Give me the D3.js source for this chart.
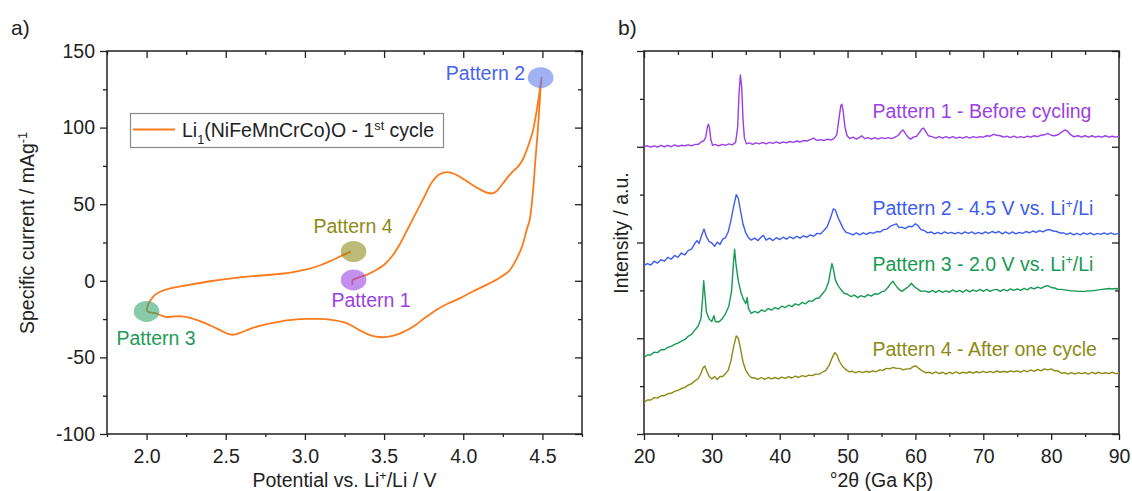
<!DOCTYPE html>
<html>
<head>
<meta charset="utf-8">
<script src="https://cdn.jsdelivr.net/npm/d3@7"></script>
<style>
  body { margin: 0; background: #fff; }
  svg { display: block; font-family: "Liberation Sans", Arial, sans-serif; }
</style>
</head>
<body>
<svg id="fig" width="1132" height="491"></svg>
<script>
// ---------- Panel a: first cyclic voltammetry cycle ----------
const cvPotential = [
  3.300, 3.302, 3.33, 3.39, 3.45, 3.50, 3.55, 3.60, 3.65, 3.70, 3.75, 3.80, 3.85, 3.90, 3.95,
  4.00, 4.05, 4.10, 4.15, 4.18, 4.21, 4.25, 4.30, 4.35, 4.38, 4.41, 4.44, 4.47, 4.495,
  4.488, 4.48, 4.47, 4.455, 4.44, 4.42, 4.40, 4.37, 4.33, 4.29, 4.23, 4.15, 4.06, 3.98, 3.90,
  3.83, 3.76, 3.69, 3.62, 3.56, 3.50, 3.45, 3.40, 3.35, 3.30, 3.25, 3.18, 3.10, 3.00, 2.90,
  2.80, 2.72, 2.65, 2.59, 2.55, 2.52, 2.48, 2.42, 2.35, 2.28, 2.22, 2.17, 2.12, 2.09, 2.05, 2.005,
  2.005, 2.02, 2.05, 2.09, 2.15, 2.25, 2.40, 2.55, 2.70, 2.85, 2.95, 3.03, 3.10, 3.16, 3.22, 3.29
];
const cvCurrent = [
  -2.5, 0.5, 1.8, 3.9, 7.0, 10.5, 16, 24, 34, 44, 54, 64, 69.5, 71, 69.5,
  66.5, 63, 60, 57.5, 57, 58.5, 63.5, 70, 75, 80, 88, 98, 115, 133,
  125, 112, 97, 78, 58, 40, 33, 22, 13, 6.5, 2, -2.5, -7, -11.3, -15,
  -19, -24, -29.5, -33.5, -35.8, -36.8, -36.5, -35, -32.5, -29.5, -27.2, -25.6, -24.9, -24.9, -25.7,
  -27.5, -29.2, -31.5, -34, -35.2, -34.8, -33, -30, -26.8, -24.3, -23.2, -23.3, -23.6, -22.5, -21, -20,
  -17, -13.5, -9.5, -7, -5, -3, -0.3, 1.8, 3.3, 4.6, 6.2, 8, 10.3, 12.8, 15.8, 19
];

// points where the XRD patterns were taken
const markerNames = ["Pattern 1", "Pattern 2", "Pattern 3", "Pattern 4"];
const markerPotential = [3.307, 4.489, 2.0, 3.307];
const markerCurrent = [0.6, 132.6, -20, 19.1];

const cvMajorX = [2.0, 2.5, 3.0, 3.5, 4.0, 4.5];
const cvMinorX = [1.75, 2.25, 2.75, 3.25, 3.75, 4.25, 4.75];
const cvMajorY = [-100, -50, 0, 50, 100, 150];
const cvMinorY = [-75, -25, 25, 75, 125];

// ---------- Panel b: XRD patterns (2θ in degrees, intensity in stacked a.u.) ----------
const pattern1 = [
  [20,6.00],[20.5,6.02],[21,5.99],[21.5,6.02],[22,5.99],[22.5,6.03],[23,6.00],[23.5,6.03],[24,6.00],[24.5,6.04],
  [25,6.01],[25.5,6.03],[26,6.02],[26.5,6.04],[27,6.02],[27.5,6.05],[28,6.05],[28.5,6.11],[28.8,6.12],[29.1,6.20],
  [29.35,6.42],[29.5,6.47],[29.65,6.40],[29.85,6.15],[30.1,6.03],[30.5,6.05],[31,6.02],[31.5,6.05],[32,6.03],[32.5,6.06],
  [33,6.04],[33.5,6.09],[33.8,6.40],[34.0,7.10],[34.2,7.50],[34.4,7.25],[34.6,6.55],[34.8,6.18],[35.1,6.06],[35.5,6.08],
  [36,6.05],[36.5,6.08],[37,6.06],[37.5,6.09],[38,6.06],[38.5,6.09],[39,6.07],[39.5,6.10],[40,6.07],[40.5,6.10],
  [41,6.08],[41.5,6.11],[42,6.09],[42.5,6.12],[43,6.10],[43.5,6.13],[44,6.12],[44.5,6.15],[45,6.18],[45.5,6.13],
  [46,6.15],[46.5,6.13],[47,6.16],[47.5,6.14],[48,6.17],[48.4,6.25],[48.7,6.55],[49.0,6.86],[49.15,6.89],[49.35,6.75],
  [49.6,6.42],[49.9,6.24],[50.3,6.17],[50.8,6.20],[51.3,6.16],[51.8,6.20],[52.1,6.23],[52.5,6.17],[53,6.19],[53.5,6.16],
  [54,6.19],[54.5,6.16],[55,6.19],[55.5,6.17],[56,6.19],[56.5,6.17],[57,6.20],[57.5,6.24],[57.9,6.32],[58.2,6.35],
  [58.5,6.28],[58.9,6.20],[59.3,6.16],[59.7,6.20],[60.2,6.22],[60.6,6.30],[60.9,6.37],[61.2,6.39],[61.5,6.32],[61.9,6.23],
  [62.4,6.21],[63,6.18],[63.5,6.21],[64,6.18],[64.5,6.21],[65,6.18],[65.5,6.21],[66,6.18],[66.5,6.20],[67,6.18],
  [67.5,6.21],[68,6.18],[68.5,6.21],[69,6.19],[69.5,6.21],[70,6.20],[70.5,6.23],[71,6.22],[71.5,6.26],[72,6.24],
  [72.5,6.23],[73,6.20],[73.5,6.22],[74,6.19],[74.5,6.22],[75,6.19],[75.5,6.21],[76,6.19],[76.5,6.22],[77,6.20],
  [77.5,6.23],[78,6.21],[78.5,6.24],[79,6.25],[79.5,6.28],[80,6.24],[80.5,6.23],[81,6.25],[81.5,6.30],[82,6.35],
  [82.4,6.33],[82.8,6.26],[83.3,6.21],[84,6.23],[84.5,6.20],[85,6.23],[85.5,6.20],[86,6.23],[86.5,6.20],[87,6.22],
  [87.5,6.20],[88,6.23],[88.5,6.20],[89,6.22],[89.5,6.20],[90,6.22]
];
const pattern2 = [
  [20,3.52],[20.5,3.56],[21,3.53],[21.5,3.61],[22,3.57],[22.5,3.64],[23,3.61],[23.5,3.69],[24,3.65],[24.5,3.73],
  [25,3.69],[25.5,3.78],[26,3.74],[26.5,3.83],[27,3.86],[27.5,3.98],[27.8,4.04],[28.1,3.98],[28.5,4.15],[28.85,4.28],
  [29.2,4.12],[29.6,4.02],[30,3.99],[30.4,3.92],[30.8,4.01],[31.2,3.96],[31.6,4.07],[32,4.10],[32.4,4.22],[32.8,4.45],
  [33.2,4.75],[33.6,5.00],[33.9,4.92],[34.2,4.68],[34.6,4.38],[35,4.20],[35.4,4.10],[35.8,4.05],[36.3,4.09],[36.8,4.04],
  [37.3,4.12],[37.6,4.15],[38,4.05],[38.5,4.09],[39,4.04],[39.5,4.10],[40,4.06],[40.5,4.11],[41,4.07],[41.5,4.12],
  [42,4.08],[42.5,4.13],[43,4.09],[43.5,4.14],[44,4.11],[44.5,4.16],[45,4.13],[45.5,4.19],[46,4.18],[46.5,4.25],
  [47,4.33],[47.5,4.52],[47.9,4.70],[48.2,4.68],[48.6,4.52],[49,4.40],[49.4,4.28],[49.8,4.21],[50.3,4.19],[50.8,4.16],
  [51.3,4.20],[51.8,4.16],[52.3,4.20],[52.8,4.17],[53.3,4.21],[53.8,4.19],[54.3,4.23],[54.8,4.22],[55.3,4.27],[55.8,4.28],
  [56.3,4.34],[56.8,4.37],[57.2,4.39],[57.6,4.31],[58,4.32],[58.5,4.29],[59,4.34],[59.5,4.33],[60,4.39],[60.4,4.35],
  [60.8,4.27],[61.3,4.25],[61.8,4.20],[62.3,4.22],[62.8,4.18],[63.3,4.21],[63.8,4.18],[64.3,4.22],[64.8,4.19],[65.3,4.21],
  [65.8,4.18],[66.3,4.21],[66.8,4.18],[67.3,4.22],[67.8,4.19],[68.3,4.22],[68.8,4.18],[69.3,4.21],[69.8,4.18],[70.3,4.22],
  [70.8,4.19],[71.3,4.23],[71.8,4.20],[72.3,4.23],[72.8,4.18],[73.3,4.22],[73.8,4.18],[74.3,4.22],[74.8,4.18],[75.3,4.21],
  [75.8,4.19],[76.3,4.23],[76.8,4.20],[77.3,4.24],[77.8,4.21],[78.3,4.25],[78.8,4.22],[79.3,4.26],[79.8,4.27],[80.3,4.24],
  [80.8,4.23],[81.3,4.20],[81.8,4.20],[82.3,4.17],[82.8,4.20],[83.3,4.16],[83.8,4.19],[84.3,4.16],[84.8,4.20],[85.3,4.17],
  [85.8,4.20],[86.3,4.16],[86.8,4.19],[87.3,4.17],[87.8,4.20],[88.3,4.17],[88.8,4.20],[89.3,4.17],[90,4.19]
];
const pattern3 = [
  [20,1.60],[20.5,1.65],[21,1.65],[21.5,1.71],[22,1.70],[22.5,1.76],[23,1.76],[23.5,1.81],[24,1.83],[24.5,1.87],
  [25,1.90],[25.5,1.94],[26,1.97],[26.5,2.04],[27,2.08],[27.5,2.17],[28,2.26],[28.4,2.42],[28.65,2.85],[28.8,3.20],
  [28.95,2.95],[29.2,2.55],[29.6,2.40],[30,2.35],[30.3,2.47],[30.5,2.35],[31,2.34],[31.5,2.40],[32,2.51],[32.5,2.67],
  [32.9,2.98],[33.2,3.60],[33.35,3.86],[33.55,3.55],[33.9,3.20],[34.3,2.95],[34.7,2.80],[35.0,2.72],[35.2,2.85],[35.4,2.62],
  [35.8,2.52],[36.3,2.56],[36.8,2.53],[37.3,2.59],[37.8,2.56],[38.3,2.62],[38.8,2.59],[39.3,2.64],[39.8,2.61],[40.3,2.67],
  [40.8,2.64],[41.3,2.69],[41.8,2.66],[42.3,2.72],[42.8,2.69],[43.3,2.75],[43.8,2.72],[44.3,2.78],[44.8,2.77],[45.3,2.83],
  [45.8,2.84],[46.3,2.93],[46.8,3.02],[47.2,3.18],[47.5,3.42],[47.7,3.56],[47.9,3.45],[48.2,3.22],[48.6,3.10],[49,3.02],
  [49.5,2.94],[50,2.92],[50.5,2.87],[51,2.90],[51.5,2.85],[52,2.89],[52.5,2.86],[53,2.91],[53.5,2.88],[54,2.93],
  [54.5,2.92],[55,2.97],[55.5,2.99],[56,3.07],[56.4,3.15],[56.7,3.19],[57,3.12],[57.5,3.03],[58,2.98],[58.5,3.03],
  [59,3.08],[59.4,3.15],[59.8,3.08],[60.3,3.03],[60.8,2.98],[61.3,2.99],[62,2.96],[62.5,3.00],[63,2.96],[63.5,3.00],
  [64,2.96],[64.5,2.99],[65,2.96],[65.5,3.01],[66,2.97],[66.5,3.00],[67,2.96],[67.5,3.01],[68,2.97],[68.5,3.01],
  [69,2.98],[69.5,3.02],[70,2.98],[70.5,3.02],[71,2.98],[71.5,3.01],[72,3.02],[72.5,2.98],[73,3.02],[73.5,2.99],
  [74,3.03],[74.5,3.00],[75,3.03],[75.5,3.00],[76,3.04],[76.5,3.01],[77,3.06],[77.5,3.03],[78,3.07],[78.5,3.04],
  [79,3.08],[79.5,3.10],[80,3.06],[80.5,3.05],[81,3.02],[81.5,3.02],[82,3.01],[82.5,3.00],[83,2.99],[83.5,2.99],
  [84,2.98],[84.5,2.98],[85,2.98],[85.5,2.99],[86,2.99],[86.5,3.00],[87,3.01],[87.5,3.02],[88,3.03],[88.5,3.04],
  [89,3.03],[89.5,3.04],[90,3.03]
];
const pattern4 = [
  [20,0.66],[20.5,0.71],[21,0.71],[21.5,0.76],[22,0.75],[22.5,0.80],[23,0.80],[23.5,0.84],[24,0.85],[24.5,0.89],
  [25,0.91],[25.5,0.95],[26,0.97],[26.5,1.02],[27,1.05],[27.5,1.11],[28,1.16],[28.4,1.27],[28.7,1.38],[28.95,1.42],
  [29.2,1.33],[29.6,1.20],[30,1.15],[30.4,1.20],[30.8,1.14],[31.2,1.20],[31.6,1.20],[32,1.26],[32.4,1.33],[32.8,1.52],
  [33.2,1.82],[33.6,2.05],[33.9,2.00],[34.2,1.80],[34.6,1.50],[35,1.33],[35.4,1.24],[35.8,1.18],[36.3,1.17],[36.8,1.14],
  [37.3,1.18],[37.8,1.14],[38.3,1.18],[38.8,1.15],[39.3,1.18],[39.8,1.15],[40.3,1.19],[40.8,1.16],[41.3,1.20],[41.8,1.17],
  [42.3,1.21],[42.8,1.18],[43.3,1.22],[43.8,1.20],[44.3,1.23],[44.8,1.22],[45.3,1.25],[45.8,1.25],[46.3,1.29],[46.8,1.33],
  [47.3,1.44],[47.7,1.58],[48.1,1.70],[48.4,1.66],[48.8,1.52],[49.2,1.42],[49.7,1.35],[50.2,1.30],[50.7,1.31],[51.2,1.28],
  [51.7,1.31],[52.2,1.28],[52.7,1.31],[53.2,1.29],[53.7,1.32],[54.2,1.30],[54.7,1.34],[55.2,1.33],[55.7,1.37],[56.2,1.36],
  [56.7,1.39],[57.2,1.37],[57.7,1.37],[58.2,1.34],[58.7,1.36],[59.2,1.36],[59.7,1.41],[60.1,1.42],[60.5,1.37],[61,1.32],
  [61.5,1.28],[62,1.29],[62.5,1.26],[63,1.30],[63.5,1.26],[64,1.29],[64.5,1.25],[65,1.29],[65.5,1.26],[66,1.30],
  [66.5,1.26],[67,1.29],[67.5,1.27],[68,1.30],[68.5,1.27],[69,1.30],[69.5,1.28],[70,1.31],[70.5,1.28],[71,1.31],
  [71.5,1.28],[72,1.32],[72.5,1.29],[73,1.31],[73.5,1.29],[74,1.32],[74.5,1.30],[75,1.32],[75.5,1.29],[76,1.33],
  [76.5,1.30],[77,1.34],[77.5,1.31],[78,1.35],[78.5,1.32],[79,1.36],[79.5,1.34],[80,1.36],[80.5,1.32],[81,1.32],
  [81.5,1.27],[82,1.28],[82.5,1.25],[83,1.28],[83.5,1.25],[84,1.28],[84.5,1.26],[85,1.28],[85.5,1.25],[86,1.29],
  [86.5,1.26],[87,1.29],[87.5,1.26],[88,1.28],[88.5,1.26],[89,1.29],[89.5,1.26],[90,1.27]
];
const patternLabels = [
  ["Pattern 1 - Before cycling"],
  ["Pattern 2 - 4.5 V vs. Li", "+", "/Li"],
  ["Pattern 3 - 2.0 V vs. Li", "+", "/Li"],
  ["Pattern 4 - After one cycle"]
];
const xrdMajorX = [20, 30, 40, 50, 60, 70, 80, 90];
const xrdMinorX = [25, 35, 45, 55, 65, 75, 85];
const xrdMajorY = [0, 2, 4, 6, 8];
const xrdMinorY = [1, 3, 5, 7];

// ---------- styling ----------
const purple = "#9a3fe6", blue = "#3d5df0", green = "#179a52", olive = "#8c8a14", orange = "#fb7a1c";
const patternColors = [purple, blue, green, olive];
const FS = 19.5;

const svg = d3.select("#fig");

// scales
const cvX = d3.scaleLinear().domain([1.75, 4.75]).range([107, 582]);
const cvY = d3.scaleLinear().domain([-100, 150]).range([434, 51]);
const xrdX = d3.scaleLinear().domain([20, 90]).range([644, 1119]);
const xrdY = d3.scaleLinear().domain([0, 8]).range([434, 51]);

function frameAxes(xs, ys, opts) {
  const [x0, x1] = xs.range();
  const [y0, y1] = ys.range(); // y0 bottom, y1 top
  const g = svg.append("g");
  const styleAxis = sel => {
    sel.select(".domain").remove();
    sel.selectAll("line").attr("stroke", "#222").attr("stroke-width", 1.3);
    sel.selectAll("text").attr("fill", "#222").attr("font-size", FS)
      .attr("font-family", "'Liberation Sans', Arial, sans-serif");
  };
  // bottom: outward ticks with labels
  g.append("g").attr("transform", `translate(0,${y0})`)
    .call(d3.axisBottom(xs).tickValues(opts.majorX).tickSize(6).tickPadding(9).tickFormat(opts.fmtX))
    .call(styleAxis);
  g.append("g").attr("transform", `translate(0,${y0})`)
    .call(d3.axisBottom(xs).tickValues(opts.minorX).tickSize(3).tickFormat(""))
    .call(styleAxis);
  // top: inward ticks
  g.append("g").attr("transform", `translate(0,${y1})`)
    .call(d3.axisBottom(xs).tickValues(opts.majorX).tickSize(7).tickFormat(""))
    .call(styleAxis);
  g.append("g").attr("transform", `translate(0,${y1})`)
    .call(d3.axisBottom(xs).tickValues(opts.minorX).tickSize(4).tickFormat(""))
    .call(styleAxis);
  // left: outward ticks
  g.append("g").attr("transform", `translate(${x0},0)`)
    .call(d3.axisLeft(ys).tickValues(opts.majorY).tickSize(7).tickPadding(5)
      .tickFormat(opts.fmtY || ""))
    .call(styleAxis);
  g.append("g").attr("transform", `translate(${x0},0)`)
    .call(d3.axisLeft(ys).tickValues(opts.minorY).tickSize(4).tickFormat(""))
    .call(styleAxis);
  // right: inward ticks
  g.append("g").attr("transform", `translate(${x1},0)`)
    .call(d3.axisLeft(ys).tickValues(opts.majorY).tickSize(7).tickFormat(""))
    .call(styleAxis);
  g.append("g").attr("transform", `translate(${x1},0)`)
    .call(d3.axisLeft(ys).tickValues(opts.minorY).tickSize(4).tickFormat(""))
    .call(styleAxis);
  // frame
  g.append("rect").attr("x", x0).attr("y", y1).attr("width", x1 - x0).attr("height", y0 - y1)
    .attr("fill", "none").attr("stroke", "#222").attr("stroke-width", 1.5);
}

function richText(parent, parts, attrs) {
  const t = parent.append("text");
  Object.entries(attrs).forEach(([k, v]) => t.attr(k, v));
  parts.forEach(p => {
    const s = t.append("tspan").text(p.text);
    if (p.shift === "sup") s.attr("font-size", FS * 0.65).attr("baseline-shift", "super");
    if (p.shift === "sub") s.attr("font-size", FS * 0.65).attr("baseline-shift", "sub");
    if (p.fill) s.attr("fill", p.fill);
  });
  return t;
}

// ===== Panel a =====
frameAxes(cvX, cvY, {
  majorX: cvMajorX, minorX: cvMinorX, majorY: cvMajorY, minorY: cvMinorY,
  fmtX: d3.format(".1f"), fmtY: d => String(d)
});

const cvPoints = cvPotential.map((v, i) => [v, cvCurrent[i]]);
svg.append("path")
  .datum(cvPoints)
  .attr("fill", "none")
  .attr("stroke", orange)
  .attr("stroke-width", 1.8)
  .attr("d", d3.line().x(d => cvX(d[0])).y(d => cvY(d[1])).curve(d3.curveCatmullRom.alpha(0.5)));

// translucent markers at the XRD sampling points
const markerFill = ["#9a3fe6", "#5b78ec", "#2ea36a", "#8c8a14"];
svg.append("g").selectAll("ellipse")
  .data(markerNames)
  .join("ellipse")
  .attr("cx", (d, i) => cvX(markerPotential[i]))
  .attr("cy", (d, i) => cvY(markerCurrent[i]))
  .attr("rx", 12.8)
  .attr("ry", 10.5)
  .attr("fill", (d, i) => markerFill[i])
  .attr("fill-opacity", 0.58);

const annoColor = ["#9a3fe6", "#4665ee", "#1f9a58", "#8c8a14"];
const annoPos = [
  { x: 331.5, y: 307, anchor: "start" },
  { x: 525, y: 80, anchor: "end" },
  { x: 116.5, y: 344.5, anchor: "start" },
  { x: 313.5, y: 232.5, anchor: "start" }
];
markerNames.forEach((name, i) => {
  svg.append("text").attr("x", annoPos[i].x).attr("y", annoPos[i].y)
    .attr("text-anchor", annoPos[i].anchor).attr("font-size", FS)
    .attr("fill", annoColor[i]).text(name);
});

// legend
const lg = svg.append("g");
lg.append("rect").attr("x", 130.5).attr("y", 113.5).attr("width", 313).attr("height", 34)
  .attr("fill", "#fff").attr("stroke", "#8a8a8a").attr("stroke-width", 1.2);
lg.append("line").attr("x1", 133).attr("x2", 175).attr("y1", 129.5).attr("y2", 129.5)
  .attr("stroke", orange).attr("stroke-width", 1.8);
richText(lg, [
  { text: "Li" }, { text: "1", shift: "sub" }, { text: "(NiFeMnCrCo)O - 1" },
  { text: "st", shift: "sup" }, { text: " cycle" }
], { x: 182, y: 136.5, "font-size": FS, fill: "#222" });

// axis titles
richText(svg, [{ text: "Potential vs. Li" }, { text: "+", shift: "sup" }, { text: "/Li / V" }],
  { x: (cvX.range()[0] + cvX.range()[1]) / 2, y: 487, "text-anchor": "middle", "font-size": FS, fill: "#222" });
richText(svg, [{ text: "Specific current / mAg" }, { text: "-1", shift: "sup" }],
  { transform: "translate(27,233) rotate(-90)", "text-anchor": "middle", dy: "0.35em", "font-size": FS, fill: "#222" });
svg.append("text").attr("x", 11).attr("y", 35).attr("font-size", 21).attr("fill", "#222").text("a)");

// ===== Panel b =====
frameAxes(xrdX, xrdY, {
  majorX: xrdMajorX, minorX: xrdMinorX, majorY: xrdMajorY, minorY: xrdMinorY,
  fmtX: d3.format("d"), fmtY: null
});

const xrdLine = d3.line().x(d => xrdX(d[0])).y(d => xrdY(d[1]));
[pattern1, pattern2, pattern3, pattern4].forEach((p, i) => {
  svg.append("path").datum(p)
    .attr("fill", "none")
    .attr("stroke", patternColors[i])
    .attr("stroke-width", 1.4)
    .attr("stroke-linejoin", "round")
    .attr("d", xrdLine);
});

const labelBaselines = [118, 214.5, 270.5, 355.5];
patternLabels.forEach((parts, i) => {
  const spec = parts.map((t, k) => (t === "+" ? { text: t, shift: "sup" } : { text: t }));
  richText(svg, spec, { x: 872.5, y: labelBaselines[i], "font-size": FS, fill: patternColors[i] });
});

svg.append("text").attr("x", (xrdX.range()[0] + xrdX.range()[1]) / 2).attr("y", 487)
  .attr("text-anchor", "middle").attr("font-size", FS).attr("fill", "#222").text("°2θ (Ga Kβ)");
svg.append("text").attr("transform", "translate(621,233) rotate(-90)").attr("text-anchor", "middle")
  .attr("dy", "0.35em").attr("font-size", FS).attr("fill", "#222").text("Intensity / a.u.");
svg.append("text").attr("x", 618).attr("y", 35).attr("font-size", 21).attr("fill", "#222").text("b)");
</script>
</body>
</html>
